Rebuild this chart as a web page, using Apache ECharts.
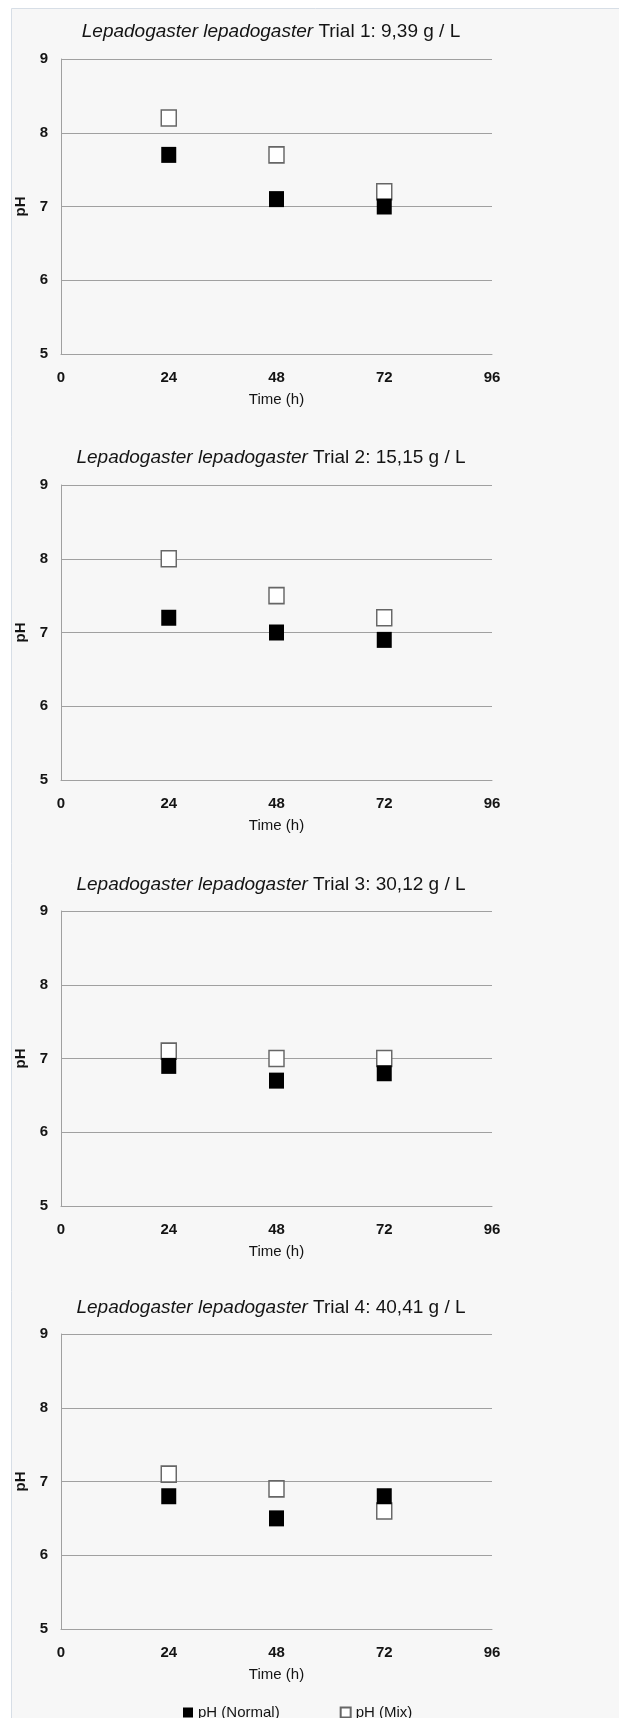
<!DOCTYPE html>
<html>
<head>
<meta charset="utf-8">
<script src="https://cdn.jsdelivr.net/npm/echarts@6/dist/echarts.min.js"></script>
<style>
  html, body { margin: 0; padding: 0; background: #ffffff; }
  #chart { width: 619px; height: 1718px; }
</style>
</head>
<body>
<div id="chart"></div>
<script>
// ---- data ----
const species = 'Lepadogaster lepadogaster';
const trialLabels = ['Trial 1: 9,39 g / L', 'Trial 2: 15,15 g / L', 'Trial 3: 30,12 g / L', 'Trial 4: 40,41 g / L'];
const times = [24, 48, 72];
const xTicks = [0, 24, 48, 72, 96];
const yTicks = [5, 6, 7, 8, 9];
const trial1Normal = [7.7, 7.1, 7.0];
const trial1Mix = [8.2, 7.7, 7.2];
const trial2Normal = [7.2, 7.0, 6.9];
const trial2Mix = [8.0, 7.5, 7.2];
const trial3Normal = [6.9, 6.7, 6.8];
const trial3Mix = [7.1, 7.0, 7.0];
const trial4Normal = [6.8, 6.5, 6.8];
const trial4Mix = [7.1, 6.9, 6.6];
const seriesNames = ['pH (Normal)', 'pH (Mix)'];
const xName = 'Time (h)';
const yName = 'pH';

const normals = [trial1Normal, trial2Normal, trial3Normal, trial4Normal];
const mixes = [trial1Mix, trial2Mix, trial3Mix, trial4Mix];

// ---- layout ----
const gridTops = [59, 485, 911, 1334];
const titleTops = [22, 448, 875, 1298];
const gridLeft = 61, gridWidth = 431, gridHeight = 295;
const font = 'Liberation Sans, Arial, sans-serif';
const textColor = '#141414';
const lineColor = '#a0a0a0';

const chart = echarts.init(document.getElementById('chart'), null, { renderer: 'canvas' });

const grids = [], xAxes = [], yAxes = [], titles = [], series = [];
gridTops.forEach((top, i) => {
  grids.push({ left: gridLeft, top: top, width: gridWidth, height: gridHeight, containLabel: false });
  titles.push({
    text: '{i|' + species + '} ' + trialLabels[i],
    left: 271, top: titleTops[i], textAlign: 'center', padding: 0,
    textStyle: {
      fontFamily: font, fontSize: 19, fontWeight: 'normal', color: textColor,
      rich: { i: { fontFamily: font, fontSize: 19, fontStyle: 'italic', color: textColor } }
    }
  });
  xAxes.push({
    gridIndex: i, type: 'value', min: xTicks[0], max: xTicks[xTicks.length - 1], interval: 24,
    name: xName, nameLocation: 'middle', nameGap: 38,
    nameTextStyle: { fontFamily: font, fontSize: 15, color: textColor },
    axisLine: { show: true, lineStyle: { color: lineColor, width: 1 } },
    axisTick: { show: false },
    splitLine: { show: false },
    axisLabel: { margin: 16, fontFamily: font, fontSize: 15, fontWeight: 'bold', color: textColor }
  });
  yAxes.push({
    gridIndex: i, type: 'value', min: yTicks[0], max: yTicks[yTicks.length - 1], interval: 1,
    name: yName, nameLocation: 'middle', nameGap: 27, nameRotate: 90,
    nameTextStyle: { fontFamily: font, fontSize: 15, fontWeight: 'bold', color: textColor },
    axisLine: { show: true, lineStyle: { color: lineColor, width: 1 } },
    axisTick: { show: false },
    splitLine: { show: true, lineStyle: { color: lineColor, width: 1 } },
    axisLabel: { margin: 13, fontFamily: font, fontSize: 15, fontWeight: 'bold', color: textColor }
  });
  series.push({
    name: seriesNames[1], type: 'scatter', xAxisIndex: i, yAxisIndex: i, z: 2,
    symbol: 'rect', symbolSize: [15, 16],
    itemStyle: { color: '#ffffff', borderColor: '#666666', borderWidth: 1.5, opacity: 1 },
    emphasis: { disabled: true },
    data: times.map((t, k) => [t, mixes[i][k]])
  });
  series.push({
    name: seriesNames[0], type: 'scatter', xAxisIndex: i, yAxisIndex: i, z: 3,
    symbol: 'rect', symbolSize: [15, 16],
    itemStyle: { color: '#000000', borderColor: '#000000', borderWidth: 0, opacity: 1 },
    emphasis: { disabled: true },
    data: times.map((t, k) => [t, normals[i][k]])
  });
});

chart.setOption({
  animation: false,
  backgroundColor: '#ffffff',
  graphic: [{
    type: 'rect', z: -10, silent: true,
    shape: { x: 11.5, y: 8.5, width: 640, height: 1740 },
    style: { fill: '#f7f7f7', stroke: '#d7dee6', lineWidth: 1 }
  }],
  title: titles,
  legend: {
    data: seriesNames, left: 178, top: 1700, itemWidth: 10, itemHeight: 10, itemGap: 60,
    icon: 'rect',
    textStyle: { fontFamily: font, fontSize: 15, color: textColor }
  },
  grid: grids,
  xAxis: xAxes,
  yAxis: yAxes,
  series: series
});
</script>
</body>
</html>
